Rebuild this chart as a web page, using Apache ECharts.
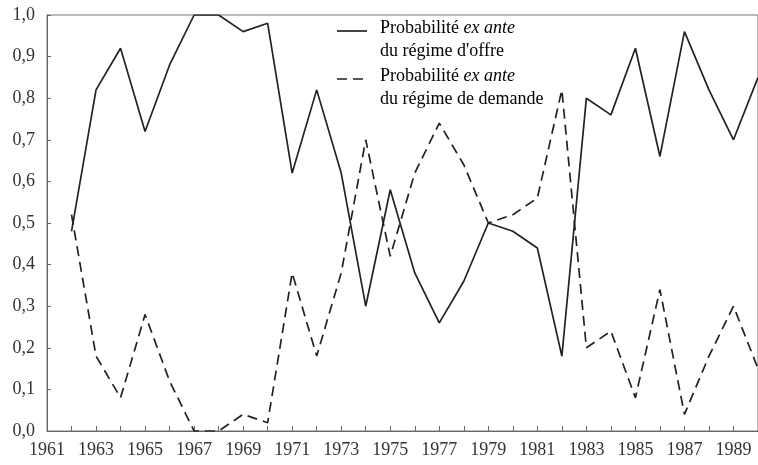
<!DOCTYPE html>
<html>
<head>
<meta charset="utf-8">
<script src="https://cdn.jsdelivr.net/npm/echarts@6/dist/echarts.min.js"></script>
<style>
html,body{margin:0;padding:0;background:#fff;}
#chart{width:758px;height:465px;}
</style>
</head>
<body>
<div id="chart"></div>
<script>
var years = [1962,1963,1964,1965,1966,1967,1968,1969,1970,1971,1972,1973,1974,1975,1976,1977,1978,1979,1980,1981,1982,1983,1984,1985,1986,1987,1988,1989,1990];
var offre = [0.48,0.82,0.92,0.72,0.88,1.00,1.00,0.96,0.98,0.62,0.82,0.62,0.30,0.58,0.38,0.26,0.36,0.50,0.48,0.44,0.18,0.80,0.76,0.92,0.66,0.96,0.82,0.70,0.85];
var demande = [0.52,0.18,0.08,0.28,0.12,0.00,0.00,0.04,0.02,0.38,0.18,0.38,0.70,0.42,0.62,0.74,0.64,0.50,0.52,0.56,0.82,0.20,0.24,0.08,0.34,0.04,0.18,0.30,0.15];
var legendLines = [
  ['Probabilité ', 'ex ante', "du régime d'offre"],
  ['Probabilité ', 'ex ante', 'du régime de demande']
];

function pairs(vals){ return years.map(function(y,i){ return [y, vals[i]]; }); }

var chart = echarts.init(document.getElementById('chart'), null, {renderer:'canvas'});
var font = '"Liberation Serif", "Times New Roman", serif';
var textCol = '#333';
var lineCol = '#222';

function legendText(l){
  return '{a|' + l[0] + '}{i|' + l[1] + '}\n{a|' + l[2] + '}';
}
var rich = {
  a:{fontFamily:font, fontSize:18, color:textCol, lineHeight:23},
  i:{fontFamily:font, fontSize:18, fontStyle:'italic', color:textCol, lineHeight:23}
};

chart.setOption({
  animation:false,
  backgroundColor:'#fff',
  grid:{left:47, top:15, right:-5, bottom:34, show:true, borderColor:'#777', borderWidth:1},
  xAxis:{
    type:'value', min:1961, max:1990, interval:2,
    axisLine:{lineStyle:{color:'#666', width:1}},
    axisTick:{inside:true, length:5, lineStyle:{color:'#666'}},
    minorTick:{show:true, splitNumber:2, length:5, lineStyle:{color:'#666'}},
    splitLine:{show:false},
    axisLabel:{fontFamily:font, fontSize:18, color:textCol, margin:10, formatter:function(v){return String(v);}}
  },
  yAxis:{
    type:'value', min:0, max:1, interval:0.1,
    axisLine:{show:true, lineStyle:{color:'#666', width:1}},
    axisTick:{show:true, inside:true, length:4, lineStyle:{color:'#666'}},
    splitLine:{show:false},
    axisLabel:{fontFamily:font, fontSize:18, color:textCol, margin:12, formatter:function(v){return v.toFixed(1).replace('.', ',');}}
  },
  series:[
    {type:'line', name:'offre', data:pairs(offre), symbol:'none', lineStyle:{color:lineCol, width:1.7}, clip:true},
    {type:'line', name:'demande', data:pairs(demande), symbol:'none', lineStyle:{color:lineCol, width:1.7, type:[10,6]}, clip:true}
  ],
  graphic:[
    {type:'line', shape:{x1:337, y1:31, x2:367, y2:31}, style:{stroke:lineCol, lineWidth:1.7}},
    {type:'text', left:380, top:19, style:{text:legendText(legendLines[0]), rich:rich}},
    {type:'line', shape:{x1:337, y1:79, x2:367, y2:79}, style:{stroke:lineCol, lineWidth:1.7, lineDash:[10,6]}},
    {type:'text', left:380, top:67, style:{text:legendText(legendLines[1]), rich:rich}}
  ]
});
</script>
</body>
</html>
